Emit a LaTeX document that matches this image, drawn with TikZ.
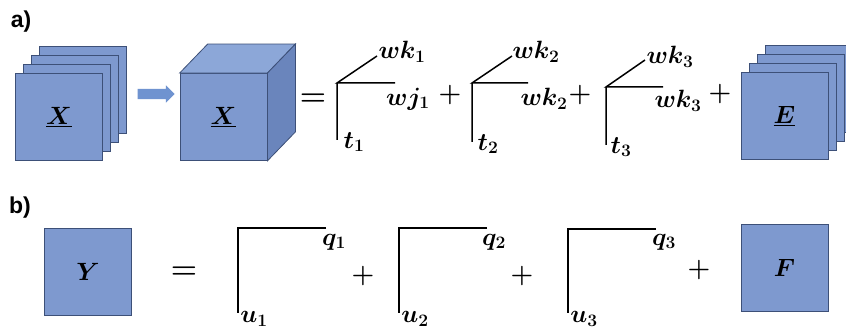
\documentclass[tikz,border=0pt]{standalone}
\usepackage{fix-cm}
\usepackage{bm}
\usepackage{fontspec}
\setsansfont{Liberation Sans}
\usetikzlibrary{calc,shapes.arrows}

\definecolor{facecol}{HTML}{7E99CF}
\definecolor{topcol}{HTML}{8CA7D8}
\definecolor{sidecol}{HTML}{6A85BC}
\definecolor{edgecol}{HTML}{3D5078}
\definecolor{arrcol}{HTML}{6F93D0}

\begin{document}
\begin{tikzpicture}[x=1pt,y=-1pt,
 sq/.style={draw=edgecol,line width=0.8pt,fill=facecol,minimum size=87pt,inner sep=0pt},
 lbl/.style={inner sep=0pt,font=\fontsize{25}{29}\selectfont},
 op/.style={inner sep=0pt,font=\fontsize{26}{30}\selectfont},
 eq/.style={inner sep=0pt,font=\fontsize{30}{34}\selectfont},
 part/.style={inner sep=0pt,font=\fontsize{23}{27}\selectfont\sffamily\bfseries},
 ax/.style={line width=1.5pt}]
\clip (0,0) rectangle (846,331);
\fill[white] (0,0) rectangle (846,331);

% a) slices -> tensor = sum of rank-one terms + E
\node[part] (pa) at (21,22) {a)};
\node[sq] (x4) at (83,90) {};
\node[sq] (x3) at (75,99) {};
\node[sq] (x2) at (67,108) {};
\node[sq] (x1) at (59,117) {};
\node[lbl] (xl) at (x1) {$\underline{\bm{X}}$};
\node[single arrow,fill=arrcol,inner sep=5pt,minimum height=37pt,
 single arrow head extend=3.5pt] (ar) at (153.5,94) {};
\node[sq] (cf) at (223.5,117) {};
\fill[topcol,draw=edgecol,line width=0.8pt] (cf.north west) -- ($(cf.north west)+(28,-29)$)
 -- ($(cf.north east)+(28,-29)$) -- (cf.north east) -- cycle;
\fill[sidecol,draw=edgecol,line width=0.8pt] (cf.north east) -- ($(cf.north east)+(28,-29)$)
 -- ($(cf.south east)+(28,-29)$) -- (cf.south east) -- cycle;
\node[lbl] (cl) at (cf) {$\underline{\bm{X}}$};
\node[eq] (eqa) at (313,100) {$\bm{=}$};

\coordinate (o1) at (337,83); \coordinate (d1) at (377,56);
\coordinate (h1) at (395,83); \coordinate (v1) at (337,140);
\draw[ax] (d1) -- (o1) -- (h1) (o1) -- (v1);
\node[lbl] (wk1) at (402,52) {$\bm{wk_1}$};
\node[lbl] (wj1) at (408,99) {$\bm{wj_1}$};
\node[lbl] (t1) at (354,142) {$\bm{t_1}$};
\node[op] (pl1) at (450,95) {$\bm{+}$};

\coordinate (o2) at (472,83); \coordinate (d2) at (512,56);
\coordinate (h2) at (528,83); \coordinate (v2) at (472,142);
\draw[ax] (d2) -- (o2) -- (h2) (o2) -- (v2);
\node[lbl] (wk2) at (536,52) {$\bm{wk_2}$};
\node[lbl] (wr2) at (544,99) {$\bm{wk_2}$};
\node[lbl] (t2) at (488,144) {$\bm{t_2}$};
\node[op] (pl2) at (580,95) {$\bm{+}$};

\coordinate (o3) at (606,87); \coordinate (d3) at (645,60);
\coordinate (h3) at (663,87); \coordinate (v3) at (606,145);
\draw[ax] (d3) -- (o3) -- (h3) (o3) -- (v3);
\node[lbl] (wk3) at (670,57) {$\bm{wk_3}$};
\node[lbl] (wr3) at (678,101) {$\bm{wk_3}$};
\node[lbl] (t3) at (621,147) {$\bm{t_3}$};
\node[op] (pl3) at (720,94) {$\bm{+}$};

\node[sq] (e4) at (808.5,89) {};
\node[sq] (e3) at (800.5,98) {};
\node[sq] (e2) at (792.5,107) {};
\node[sq] (e1) at (784.5,116) {};
\node[lbl] (el) at (e1) {$\underline{\bm{E}}$};

% b) matrix = sum of rank-one terms + F
\node[part] (pb) at (20,208) {b)};
\node[sq] (ysq) at (88,272) {};
\node[lbl] (yl) at (ysq) {$\bm{Y}$};
\node[eq] (eqb) at (184,273) {$\bm{=}$};

\coordinate (m1) at (238,228); \coordinate (q1e) at (326,228); \coordinate (u1e) at (238,313);
\draw[ax] (q1e) -- (m1) -- (u1e);
\node[lbl] (q1) at (334,242) {$\bm{q_1}$};
\node[lbl] (u1) at (254,319) {$\bm{u_1}$};
\node[op] (pb1) at (363,276) {$\bm{+}$};

\coordinate (m2) at (399,228); \coordinate (q2e) at (487,228); \coordinate (u2e) at (399,313);
\draw[ax] (q2e) -- (m2) -- (u2e);
\node[lbl] (q2) at (494,242) {$\bm{q_2}$};
\node[lbl] (u2) at (415,319) {$\bm{u_2}$};
\node[op] (pb2) at (522,276) {$\bm{+}$};

\coordinate (m3) at (568,229); \coordinate (q3e) at (656,229); \coordinate (u3e) at (568,313);
\draw[ax] (q3e) -- (m3) -- (u3e);
\node[lbl] (q3) at (664,242) {$\bm{q_3}$};
\node[lbl] (u3) at (584,319) {$\bm{u_3}$};
\node[op] (pb3) at (699,270) {$\bm{+}$};

\node[sq] (fsq) at (784.5,267.5) {};
\node[lbl] (fl) at (fsq) {$\bm{F}$};
\end{tikzpicture}
\end{document}
